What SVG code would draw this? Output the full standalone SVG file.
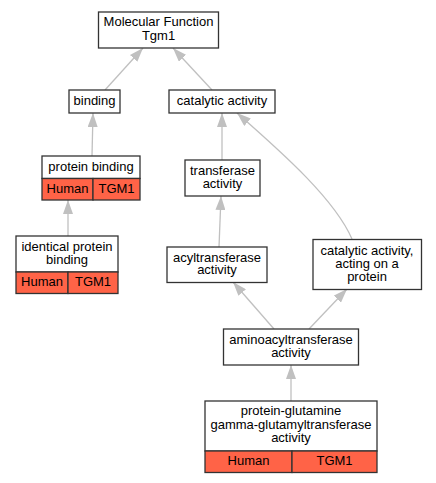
<svg xmlns="http://www.w3.org/2000/svg" width="436" height="483" viewBox="0 0 436 483">
<style>
.box{fill:#fff;stroke:#333;stroke-width:1.3}
.sp{fill:#ff6347;stroke:#333;stroke-width:1.3}
text{font-family:"Liberation Sans",Arial,sans-serif;font-size:13px;fill:#000;text-anchor:middle}
.e{fill:none;stroke:#c0c0c0;stroke-width:1.3;marker-end:url(#ah)}
</style>
<defs>
<marker id="ah" markerUnits="userSpaceOnUse" markerWidth="14" markerHeight="10" refX="14" refY="5" orient="auto" viewBox="0 0 14 10">
<path d="M0,0 L14,5 L0,10 z" fill="#c0c0c0"/>
</marker>
</defs>
<rect width="436" height="483" fill="#fff"/>
<g id="connectors">
<path class="e" d="M105,90 L143,48"/>
<path class="e" d="M212,90 L173,48"/>
<path class="e" d="M92,156 L93,113"/>
<path class="e" d="M68,236 L68,200"/>
<path class="e" d="M222,160 L222,113"/>
<path class="e" d="M219,247 L221,196"/>
<path class="e" d="M352,239 C335,200 285,155 237,113"/>
<path class="e" d="M274,329 L233,282"/>
<path class="e" d="M309,329 L347,289"/>
<path class="e" d="M291,401 L291,365"/>
</g>
<g id="mf">
<rect class="box" x="98.5" y="12" width="120" height="36"/>
<text x="158.5" y="26">Molecular Function</text>
<text x="158.5" y="39.5">Tgm1</text>
</g>
<g id="binding">
<rect class="box" x="69" y="90" width="51" height="23"/>
<text x="94.5" y="105">binding</text>
</g>
<g id="catalytic">
<rect class="box" x="169" y="90" width="106" height="23"/>
<text x="222" y="105">catalytic activity</text>
</g>
<g id="proteinbinding">
<rect class="box" x="42" y="156" width="98" height="22.5"/>
<rect class="sp" x="42" y="178.5" width="51" height="21.5"/>
<rect class="sp" x="93" y="178.5" width="47" height="21.5"/>
<text x="91" y="170.5">protein binding</text>
<text x="67.5" y="192.5">Human</text>
<text x="116.5" y="192.5">TGM1</text>
</g>
<g id="identical">
<rect class="box" x="16" y="236" width="102" height="36"/>
<rect class="sp" x="16" y="272" width="52" height="21.5"/>
<rect class="sp" x="68" y="272" width="50" height="21.5"/>
<text x="67" y="250.5">identical protein</text>
<text x="67" y="263.5">binding</text>
<text x="42" y="285.5">Human</text>
<text x="93" y="285.5">TGM1</text>
</g>
<g id="transferase">
<rect class="box" x="185" y="160" width="75" height="36"/>
<text x="222.5" y="174.5">transferase</text>
<text x="222.5" y="187.5">activity</text>
</g>
<g id="acyl">
<rect class="box" x="167" y="247" width="100" height="35.5"/>
<text x="217" y="261.5">acyltransferase</text>
<text x="217" y="274">activity</text>
</g>
<g id="actingprotein">
<rect class="box" x="313" y="239.5" width="108.5" height="50"/>
<text x="367" y="254.5">catalytic activity,</text>
<text x="367" y="267.5">acting on a</text>
<text x="367" y="281">protein</text>
</g>
<g id="aminoacyl">
<rect class="box" x="223.5" y="329" width="135" height="36"/>
<text x="291" y="343.5">aminoacyltransferase</text>
<text x="291" y="357">activity</text>
</g>
<g id="pqgt">
<rect class="box" x="205" y="401" width="172" height="50"/>
<rect class="sp" x="205" y="451" width="87" height="21.5"/>
<rect class="sp" x="292" y="451" width="85" height="21.5"/>
<text x="291" y="415">protein-glutamine</text>
<text x="291" y="428.5">gamma-glutamyltransferase</text>
<text x="291" y="442">activity</text>
<text x="248.5" y="465">Human</text>
<text x="334.5" y="465">TGM1</text>
</g>
</svg>
